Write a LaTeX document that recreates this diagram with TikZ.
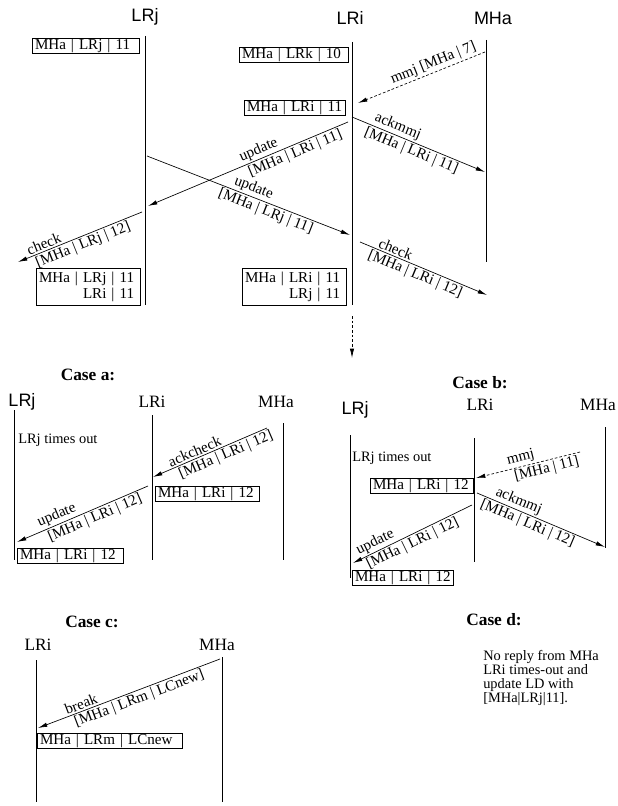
\documentclass[tikz,border=0pt]{standalone}
\usepackage{fontspec}
\setmainfont{Liberation Serif}
\setsansfont{Liberation Sans}
\usetikzlibrary{arrows.meta}
\begin{document}
\begin{tikzpicture}[x=0.75pt,y=-0.75pt,
  lifeline/.style={line width=0.5pt},
  msg/.style={line width=0.5pt,-{Latex[length=7pt,width=3.2pt]}},
  msgdash/.style={msg,dash pattern=on 2pt off 1.5pt},
  lab/.style={sloped,inner sep=1.2pt,font=\fontsize{11.3}{12}\selectfont},
  box/.style={draw,line width=0.5pt,anchor=north west,align=left,inner xsep=2pt,inner ysep=0.3pt,
    minimum height=11.25pt,font=\fontsize{11.3}{12}\selectfont},
  hsans/.style={font=\sffamily\fontsize{13.5}{15}\selectfont,inner sep=0pt},
  hserif/.style={font=\fontsize{13}{15}\selectfont,inner sep=0pt},
  casehead/.style={font=\bfseries\fontsize{13}{15}\selectfont,inner sep=0pt},
  note/.style={font=\fontsize{10.8}{12}\selectfont,inner sep=0pt,anchor=west,align=left}
]
\fill[white] (0,0) rectangle (617,806);
\useasboundingbox (0,0) rectangle (617,806);

% ================= top part =================
\node[hsans] (tLRj) at (145,17) {LRj};
\node[hsans] (tLRi) at (350,18) {LRi};
\node[hsans] (tMHa) at (493,18) {MHa};

\coordinate (tj0) at (145,36);  \coordinate (tj1) at (145,305);
\coordinate (ti0) at (352,42);  \coordinate (ti1) at (352,305);
\coordinate (tm0) at (486,40);  \coordinate (tm1) at (486,262);
\draw[lifeline] (tj0) -- (tj1);
\draw[lifeline] (ti0) -- (ti1);
\draw[lifeline] (tm0) -- (tm1);

\coordinate (dn0) at (352,316); \coordinate (dn1) at (352,358);
\draw[msgdash] (dn0) -- (dn1);

\node[box,text width=76pt] (b1) at (32,38) {MHa | LRj | 11};
\node[box,text width=77.5pt] (b2) at (239,47) {MHa | LRk | 10};
\node[box,text width=71.5pt] (b3) at (244,100) {MHa | LRi | 11};
\node[box,text width=74pt,minimum height=27.75pt,inner ysep=1.5pt] (b4) at (36,268)
  {MHa | LRj | 11\\\phantom{MHa | }LRi | 11};
\node[box,text width=74pt,minimum height=27.75pt,inner ysep=1.5pt] (b5) at (242,268)
  {MHa | LRi | 11\\\phantom{MHa | }LRj | 11};

\coordinate (a1s) at (485,52);  \coordinate (a1e) at (358,103);
\draw[msgdash] (a1s) -- node[lab,above,pos=0.38] (l1) {mmj [MHa | 7]} (a1e);

\coordinate (a2s) at (352,117); \coordinate (a2e) at (485,172);
\draw[msg] (a2s) -- node[lab,above,pos=0.32] (l2a) {ackmmj}
  node[lab,below,pos=0.47] (l2b) {[MHa | LRi | 11]} (a2e);

\coordinate (a3s) at (348,122); \coordinate (a3e) at (148,206);
\draw[msg] (a3s) -- node[lab,above,pos=0.43] (l3a) {update}
  node[lab,below,pos=0.28] (l3b) {[MHa | LRi | 11]} (a3e);

\coordinate (a4s) at (147,156); \coordinate (a4e) at (350,235);
\draw[msg] (a4s) -- node[lab,above,pos=0.51] (l4a) {update}
  node[lab,below,pos=0.6] (l4b) {[MHa | LRj | 11]} (a4e);

\coordinate (a5s) at (142,212); \coordinate (a5e) at (18,262);
\draw[msg] (a5s) -- node[lab,above,pos=0.77] (l5a) {check}
  node[lab,below,pos=0.5] (l5b) {[MHa | LRj | 12]} (a5e);

\coordinate (a6s) at (360,242); \coordinate (a6e) at (487,295);
\draw[msg] (a6s) -- node[lab,above,pos=0.26] (l6a) {check}
  node[lab,below,pos=0.46] (l6b) {[MHa | LRi | 12]} (a6e);

% ================= Case a =================
\node[casehead] (ca) at (88,375) {Case a:};
\node[hsans] (aLRj) at (22,402) {LRj};
\node[hserif] (aLRi) at (152,402) {LRi};
\node[hserif] (aMHa) at (276,402) {MHa};
\coordinate (aj0) at (14,410);  \coordinate (aj1) at (14,560);
\coordinate (ai0) at (152,415); \coordinate (ai1) at (152,560);
\coordinate (am0) at (283,423); \coordinate (am1) at (283,560);
\draw[lifeline] (aj0) -- (aj1);
\draw[lifeline] (ai0) -- (ai1);
\draw[lifeline] (am0) -- (am1);
\node[note] (ato) at (18,440) {LRj times out};

\coordinate (c1s) at (267,428); \coordinate (c1e) at (153,477);
\draw[msg] (c1s) -- node[lab,above,pos=0.61] (m1a) {ackcheck}
  node[lab,below,pos=0.39] (m1b) {[MHa | LRi | 12]} (c1e);
\node[box,text width=74pt] (ab1) at (155,486) {MHa | LRi | 12};

\coordinate (c2s) at (148,486); \coordinate (c2e) at (17,542);
\draw[msg] (c2s) -- node[lab,above,pos=0.67] (m2a) {update}
  node[lab,below,pos=0.43] (m2b) {[MHa | LRi | 12]} (c2e);
\node[box,text width=75.5pt] (ab2) at (17,548) {MHa | LRi | 12};

% ================= Case b =================
\node[casehead] (cb) at (480,383) {Case b:};
\node[hsans] (bLRj) at (355,410) {LRj};
\node[hserif] (bLRi) at (480,405) {LRi};
\node[hserif] (bMHa) at (598,405) {MHa};
\coordinate (bj0) at (350,435); \coordinate (bj1) at (350,578);
\coordinate (bi0) at (474,438); \coordinate (bi1) at (474,562);
\coordinate (bm0) at (605,427); \coordinate (bm1) at (605,548);
\draw[lifeline] (bj0) -- (bj1);
\draw[lifeline] (bi0) -- (bi1);
\draw[lifeline] (bm0) -- (bm1);
\node[note] (bto) at (352,458) {LRj times out};

\coordinate (d1s) at (580,452); \coordinate (d1e) at (476,478);
\draw[msgdash] (d1s) -- node[lab,above,pos=0.55] (n1a) {mmj}
  node[lab,below,pos=0.34] (n1b) {[MHa | 11]} (d1e);
\node[box,text width=73pt] (bb1) at (370,478) {MHa | LRi | 12};

\coordinate (d2s) at (477,493); \coordinate (d2e) at (605,547);
\draw[msg] (d2s) -- node[lab,above,pos=0.3] (n2a) {ackmmj}
  node[lab,below,pos=0.42] (n2b) {[MHa | LRi | 12]} (d2e);

\coordinate (d3s) at (472,505); \coordinate (d3e) at (353,563);
\draw[msg] (d3s) -- node[lab,above,pos=0.78] (n3a) {update}
  node[lab,below,pos=0.53] (n3b) {[MHa | LRi | 12]} (d3e);
\node[box,text width=72pt] (bb2) at (352,570) {MHa | LRi | 12};

% ================= Case c =================
\node[casehead] (cc) at (92,622) {Case c:};
\node[hserif] (cLRi) at (38,645) {LRi};
\node[hserif] (cMHa) at (217,645) {MHa};
\coordinate (ci0) at (36,660);  \coordinate (ci1) at (36,802);
\coordinate (cm0) at (222,657); \coordinate (cm1) at (222,802);
\draw[lifeline] (ci0) -- (ci1);
\draw[lifeline] (cm0) -- (cm1);

\coordinate (e1s) at (220,659); \coordinate (e1e) at (38,728);
\draw[msg] (e1s) -- node[lab,above,pos=0.75] (o1a) {break}
  node[lab,below,pos=0.46] (o1b) {[MHa | LRm | LCnew]} (e1e);
\node[box,text width=104.75pt] (cb1) at (37,733) {MHa | LRm | LCnew};

% ================= Case d =================
\node[casehead] (cd) at (494,620) {Case d:};
\node[note,anchor=north west,font=\fontsize{10.8}{10.5}\selectfont] (dtxt) at (483,650)
  {No reply from MHa\\LRi times-out and\\update LD with\\{[}MHa|LRj|11].};
\end{tikzpicture}
\end{document}
